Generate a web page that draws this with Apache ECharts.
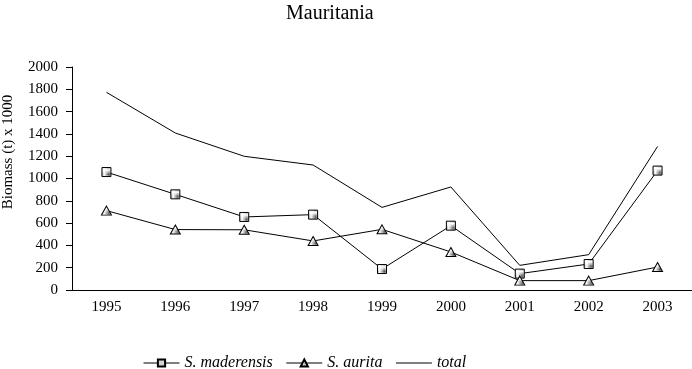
<!DOCTYPE html>
<html><head><meta charset="utf-8">
<script src="https://cdn.jsdelivr.net/npm/echarts@6/dist/echarts.min.js"></script>
<style>html,body{margin:0;padding:0;background:#fff}#c{width:692px;height:369px}</style>
</head><body><div id="c"></div>
<script>
var years = ['1995','1996','1997','1998','1999','2000','2001','2002','2003'];
var maderensis = [1058, 858, 655, 676, 188, 577, 147, 233, 1071];
var aurita = [712, 542, 540, 440, 544, 341, 84, 84, 206];
var total = [1773, 1408, 1199, 1121, 741, 924, 221, 317, 1287];
var yTicks = [0, 200, 400, 600, 800, 1000, 1200, 1400, 1600, 1800, 2000];

var pc = document.createElement('canvas');
pc.width = 2; pc.height = 2;
var pctx = pc.getContext('2d');
pctx.fillStyle = '#fff'; pctx.fillRect(0,0,2,2);
pctx.fillStyle = '#555'; pctx.fillRect(0,0,1,1);
var pattern = {image: pc, repeat: 'repeat'};

var FONT = '"Liberation Serif", "Times New Roman", serif';
var chart = echarts.init(document.getElementById('c'), null, {renderer: 'canvas'});
chart.setOption({
  animation: false,
  backgroundColor: '#fff',
  title: {text: 'Mauritania', left: 281, top: -1, textStyle: {fontFamily: FONT, fontSize: 20, fontWeight: 'normal', color: '#000'}},
  grid: {left: 72, right: 0, top: 67, bottom: 79},
  legend: {
    left: 138, top: 350, itemWidth: 36, itemHeight: 9, itemGap: 13,
    data: ['S. maderensis', 'S. aurita', 'total'],
    lineStyle: {width: 1, color: '#000'},
    formatter: function (n) { return '{i|' + n + '}'; },
    textStyle: {fontFamily: FONT, fontSize: 16, color: '#000',
      rich: {i: {fontFamily: FONT, fontSize: 16, fontStyle: 'italic', color: '#000'}}}
  },
  xAxis: {
    type: 'category', data: years, boundaryGap: true,
    axisLine: {lineStyle: {color: '#000', width: 1}},
    axisTick: {length: 6, lineStyle: {color: '#000'}},
    axisLabel: {fontFamily: FONT, fontSize: 15, color: '#000', margin: 10}
  },
  yAxis: {
    type: 'value', min: yTicks[0], max: yTicks[yTicks.length - 1], interval: 200,
    splitLine: {show: false},
    axisLine: {show: true, lineStyle: {color: '#000', width: 1}},
    axisTick: {show: true, length: 6, lineStyle: {color: '#000'}},
    axisLabel: {fontFamily: FONT, fontSize: 15, color: '#000', margin: 14,
      formatter: function (v) { return String(v); }}
  },
  graphic: [{
    type: 'text', x: 8, y: 152, rotation: Math.PI / 2,
    style: {text: 'Biomass (t) x 1000', font: '15px ' + FONT, fill: '#000', align: 'center', verticalAlign: 'middle'}
  }],
  series: [
    {name: 'S. maderensis', type: 'line', data: maderensis, symbol: 'rect', symbolSize: 9,
     lineStyle: {color: '#000', width: 1}, itemStyle: {color: pattern, borderColor: '#000', borderWidth: 1}},
    {name: 'S. aurita', type: 'line', data: aurita, symbol: 'triangle', symbolSize: [10, 9],
     lineStyle: {color: '#000', width: 1}, itemStyle: {color: pattern, borderColor: '#000', borderWidth: 1}},
    {name: 'total', type: 'line', data: total, symbol: 'circle', showSymbol: false,
     lineStyle: {color: '#000', width: 1}, itemStyle: {color: 'rgba(0,0,0,0)', borderWidth: 0}}
  ]
});
</script></body></html>
